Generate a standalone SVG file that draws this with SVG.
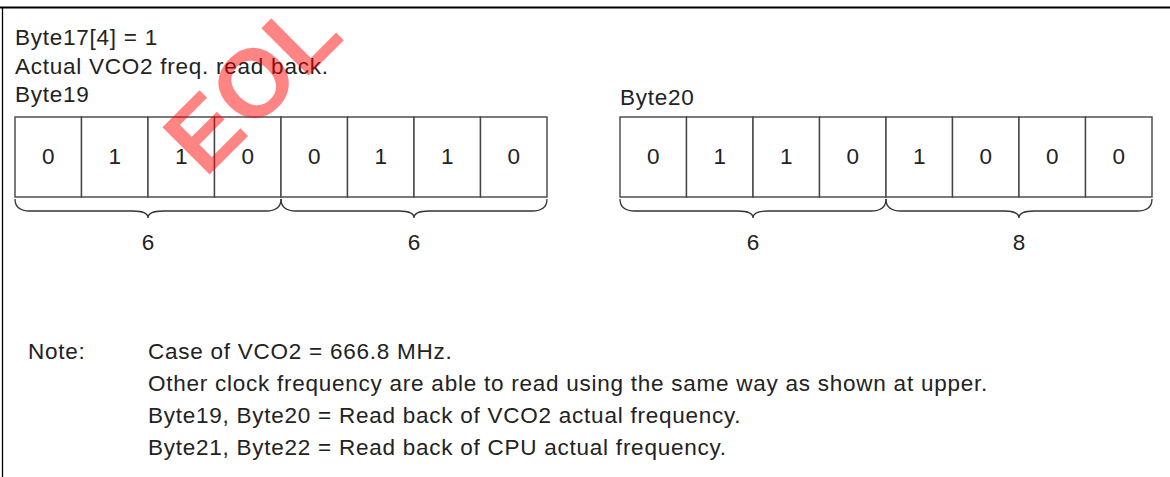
<svg xmlns="http://www.w3.org/2000/svg" width="1170" height="477" viewBox="0 0 1170 477">
  <style>
    .t { font-family: "Liberation Sans", Arial, sans-serif; font-size: 22.5px; letter-spacing: 0.75px; fill: #222; }
    .c { text-anchor: middle; letter-spacing: 0; }
    .cell { fill: #fff; stroke: #444; stroke-width: 1.4; }
    .brace { fill: none; stroke: #333; stroke-width: 1.3; }
    .wm { font-family: "Liberation Sans", Arial, sans-serif; font-weight: bold; font-size: 97px; fill: #ff0000; fill-opacity: 0.48; }
  </style>
  <rect x="0" y="0" width="1170" height="477" fill="#fff"/>
  <g id="frame">
    <line x1="0" y1="7.5" x2="1170" y2="7.5" stroke="#000" stroke-width="2.2"/>
    <line x1="2.5" y1="7" x2="2.5" y2="477" stroke="#000" stroke-width="1.3"/>
  </g>
  <g id="header">
    <text class="t" x="15" y="45">Byte17[4] = 1</text>
    <text class="t" x="15" y="74">Actual VCO2 freq. read back.</text>
  </g>
  <g id="byte19">
    <text class="t" x="15" y="102">Byte19</text>
    <rect class="cell" x="15" y="117" width="66.5" height="80"/>
    <rect class="cell" x="81.5" y="117" width="66.5" height="80"/>
    <rect class="cell" x="148" y="117" width="66.5" height="80"/>
    <rect class="cell" x="214.5" y="117" width="66.5" height="80"/>
    <rect class="cell" x="281" y="117" width="66.5" height="80"/>
    <rect class="cell" x="347.5" y="117" width="66.5" height="80"/>
    <rect class="cell" x="414" y="117" width="66.5" height="80"/>
    <rect class="cell" x="480.5" y="117" width="66.5" height="80"/>
    <text class="t c" x="48.25" y="164">0</text>
    <text class="t c" x="114.75" y="164">1</text>
    <text class="t c" x="181.25" y="164">1</text>
    <text class="t c" x="247.75" y="164">0</text>
    <text class="t c" x="314.25" y="164">0</text>
    <text class="t c" x="380.75" y="164">1</text>
    <text class="t c" x="447.25" y="164">1</text>
    <text class="t c" x="513.75" y="164">0</text>
  </g>
  <g id="byte20">
    <text class="t" x="620" y="105">Byte20</text>
    <rect class="cell" x="620" y="117" width="66.5" height="80"/>
    <rect class="cell" x="686.5" y="117" width="66.5" height="80"/>
    <rect class="cell" x="753" y="117" width="66.5" height="80"/>
    <rect class="cell" x="819.5" y="117" width="66.5" height="80"/>
    <rect class="cell" x="886" y="117" width="66.5" height="80"/>
    <rect class="cell" x="952.5" y="117" width="66.5" height="80"/>
    <rect class="cell" x="1019" y="117" width="66.5" height="80"/>
    <rect class="cell" x="1085.5" y="117" width="66.5" height="80"/>
    <text class="t c" x="653.25" y="164">0</text>
    <text class="t c" x="719.75" y="164">1</text>
    <text class="t c" x="786.25" y="164">1</text>
    <text class="t c" x="852.75" y="164">0</text>
    <text class="t c" x="919.25" y="164">1</text>
    <text class="t c" x="985.75" y="164">0</text>
    <text class="t c" x="1052.25" y="164">0</text>
    <text class="t c" x="1118.75" y="164">0</text>
  </g>
  <g id="connectors">
    <path class="brace" d="M15,199 Q15,211 30,211 L133,211 Q148,211 148,218 Q148,211 163,211 L266,211 Q281,211 281,199"/>
    <path class="brace" d="M281,199 Q281,211 296,211 L399,211 Q414,211 414,218 Q414,211 429,211 L532,211 Q547,211 547,199"/>
    <path class="brace" d="M620,199 Q620,211 635,211 L738,211 Q753,211 753,218 Q753,211 768,211 L871,211 Q886,211 886,199"/>
    <path class="brace" d="M886,199 Q886,211 901,211 L1004,211 Q1019,211 1019,218 Q1019,211 1034,211 L1137,211 Q1152,211 1152,199"/>
  </g>
  <g id="brace-labels">
    <text class="t c" x="148" y="250">6</text>
    <text class="t c" x="414" y="250">6</text>
    <text class="t c" x="753" y="250">6</text>
    <text class="t c" x="1019" y="250">8</text>
  </g>
  <g id="note">
    <text class="t" x="28" y="359">Note:</text>
    <text class="t" x="148" y="359">Case of VCO2 = 666.8 MHz.</text>
    <text class="t" x="148" y="391">Other clock frequency are able to read using the same way as shown at upper.</text>
    <text class="t" x="148" y="423">Byte19, Byte20 = Read back of VCO2 actual frequency.</text>
    <text class="t" x="148" y="455">Byte21, Byte22 = Read back of CPU actual frequency.</text>
  </g>
  <g id="watermark">
    <text class="wm" x="0" y="0" transform="translate(205,179) rotate(-45)">EOL</text>
  </g>
</svg>
